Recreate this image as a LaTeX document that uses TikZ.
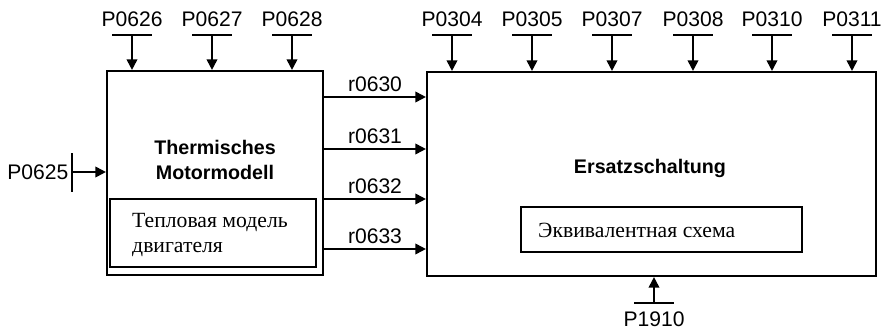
\documentclass[tikz,border=0pt]{standalone}
\usepackage{fontspec}
\setmainfont{Liberation Serif}
\setsansfont{Liberation Sans}
\usetikzlibrary{arrows.meta,positioning}

\tikzset{
  blk/.style={draw,line width=1.8pt,inner sep=0pt},
  subblk/.style={draw,line width=1.4pt,inner sep=0pt},
  sig/.style={line width=1.6pt,-{Triangle[length=9pt,width=9pt]}},
  bar/.style={line width=1.6pt},
  lbl/.style={font=\sffamily\fontsize{18}{21}\selectfont,inner sep=1pt},
  ttl/.style={font=\sffamily\bfseries\fontsize{16.8}{21}\selectfont,align=center},
  rus/.style={font=\rmfamily\fontsize{18.5}{20.5}\selectfont,align=left,inner sep=0pt},
}

\begin{document}
\begin{tikzpicture}[x=0.03cm,y=-0.03cm]
\useasboundingbox (0,0) rectangle (882,329);

% blocks
\node[blk,minimum width=6.48cm,minimum height=6.12cm] (tmm) at (215,173) {};
\node[blk,minimum width=13.47cm,minimum height=6.12cm] (ers) at (651.5,174) {};
\node[subblk,minimum width=6.18cm,minimum height=2.04cm] (tmmru) at (213,233) {};
\node[subblk,line width=1.1pt,minimum width=8.43cm,minimum height=1.35cm] (ersru) at (661.5,229.5) {};

\node[ttl] (tmmtxt) at (215,160) {Thermisches\\Motormodell};
\node[ttl] (erstxt) at (650,168) {Ersatzschaltung};
\node[rus,anchor=west] (tmmrutxt) at (132,235) {Тепловая модель\\двигателя};
\node[rus,anchor=west] (ersrutxt) at (538,230) {Эквивалентная схема};

% parameter inputs, top
\foreach \x/\p in {132/P0626,212/P0627,292/P0628} {
  \coordinate (b\p) at (\x,35);
  \draw[bar] ([xshift=-20*0.03cm]b\p) -- ([xshift=20*0.03cm]b\p);
  \node[lbl,above=6pt of b\p] (l\p) {\p};
  \draw[sig] (b\p) -- (b\p |- tmm.north);
}
\foreach \x/\p in {452/P0304,532/P0305,612/P0307,693/P0308,772/P0310,852/P0311} {
  \coordinate (b\p) at (\x,35);
  \draw[bar] ([xshift=-20*0.03cm]b\p) -- ([xshift=20*0.03cm]b\p);
  \node[lbl,above=6pt of b\p] (l\p) {\p};
  \draw[sig] (b\p) -- (b\p |- ers.north);
}

% P0625
\coordinate (bP0625) at (72,172);
\draw[bar] (72,153) -- (72,192);
\node[lbl,left=2pt of bP0625] (lP0625) {P0625};
\draw[sig] (bP0625) -- (bP0625 -| tmm.west);

% P1910
\coordinate (bP1910) at (654,303);
\draw[bar] ([xshift=-20*0.03cm]bP1910) -- ([xshift=20*0.03cm]bP1910);
\node[lbl,inner sep=0pt,anchor=north] (lP1910) at ([yshift=-7pt]bP1910) {P1910};
\draw[sig] (bP1910) -- (bP1910 |- ers.south);

% outputs
\foreach \y/\r in {97/r0630,149/r0631,199/r0632,249/r0633} {
  \coordinate (o\r) at (tmm.east |- 0,\y);
  \draw[sig] (o\r) -- (o\r -| ers.west) node[lbl,midway,above=3pt] (l\r) {\r};
}
\end{tikzpicture}
\end{document}
